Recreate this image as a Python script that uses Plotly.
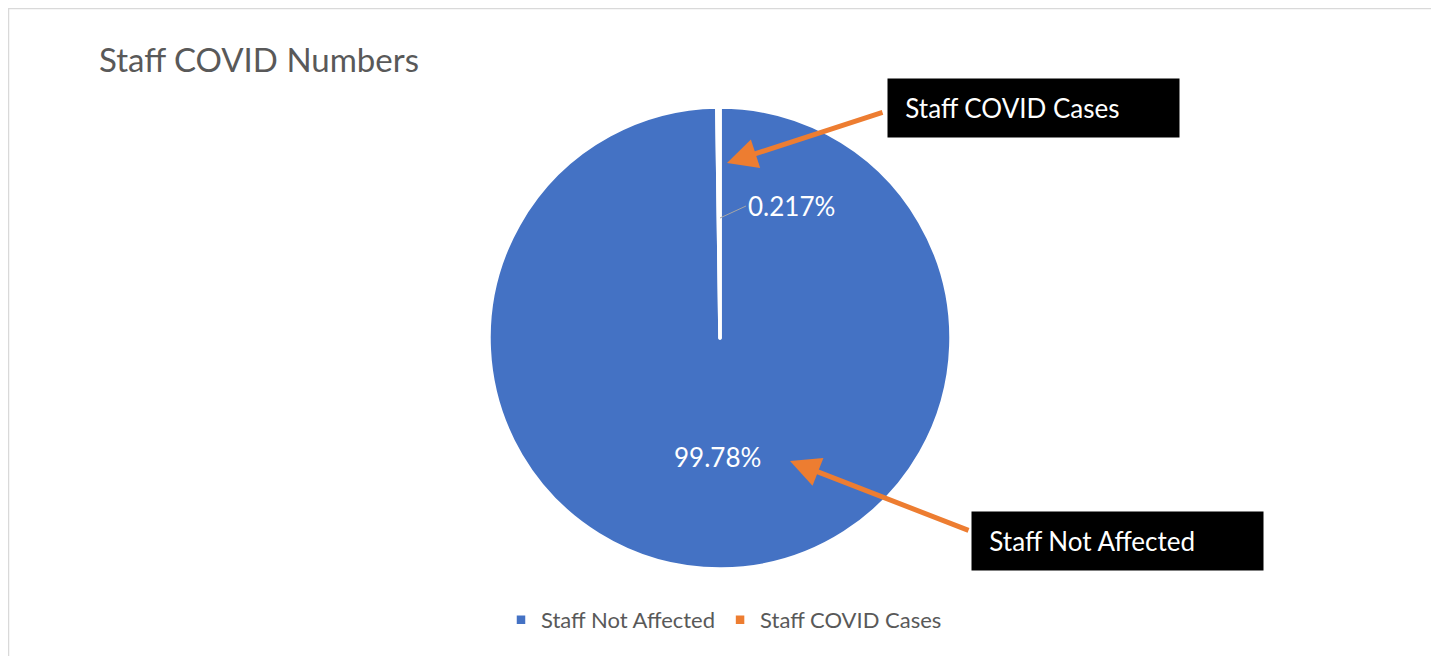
import plotly.graph_objects as go

# Data
categories = ["Staff Not Affected", "Staff COVID Cases"]
values = [99.783, 0.217]
colors = ["#4472C4", "#ED7D31"]
title_text = "Staff COVID Numbers"

W, H = 1439, 656
OFF = 8  # page body offset
total = sum(values)
pct = [v / total * 100 for v in values]
pct_labels = [f"{pct[0]:.2f}%", f"{pct[1]:.3f}%"]


def px(x):
    return (x - OFF) / W


def py(y):
    return 1 - (y - OFF) / H


fig = go.Figure()
fig.add_trace(go.Pie(
    labels=categories,
    values=values,
    sort=False,
    direction="clockwise",
    rotation=0,
    textinfo="none",
    hoverinfo="label+percent",
    marker=dict(colors=colors, line=dict(color="white", width=3.5)),
    domain=dict(x=[px(489), px(951)], y=[py(570), py(106)]),
    showlegend=True,
))

font_family = "Lato, 'Open Sans', sans-serif"
annotations = [
    # Title
    dict(text=title_text, x=px(97), y=py(59), xref="paper", yref="paper",
         xanchor="left", yanchor="middle", showarrow=False,
         font=dict(family=font_family, size=33, color="#595959")),
    # Data labels
    dict(text=pct_labels[1], x=px(720), y=py(218), xref="paper", yref="paper",
         ax=26, ay=-12, showarrow=True, arrowhead=0, arrowwidth=1,
         arrowcolor="#a6a6a6", xanchor="left", yanchor="middle",
         font=dict(family=font_family, size=26, color="white")),
    dict(text=pct_labels[0], x=px(717), y=py(457), xref="paper", yref="paper",
         showarrow=False, xanchor="center", yanchor="middle",
         font=dict(family=font_family, size=26, color="white")),
    # Callout boxes
    dict(text="\u00a0\u00a0" + categories[1], x=px(887), y=py(108), xref="paper", yref="paper",
         xanchor="left", yanchor="middle", showarrow=False, align="left",
         width=283, height=50, bgcolor="black", borderpad=4,
         font=dict(family=font_family, size=26, color="white")),
    dict(text="\u00a0\u00a0" + categories[0], x=px(971), y=py(541), xref="paper", yref="paper",
         xanchor="left", yanchor="middle", showarrow=False, align="left",
         width=283, height=50, bgcolor="black", borderpad=4,
         font=dict(family=font_family, size=26, color="white")),
    # Arrows
    dict(text="", x=px(727), y=py(163), xref="paper", yref="paper",
         ax=157, ay=-51, showarrow=True, arrowhead=2, arrowsize=1.2,
         arrowwidth=5, arrowcolor="#ED7D31"),
    dict(text="", x=px(790), y=py(461), xref="paper", yref="paper",
         ax=180, ay=70, showarrow=True, arrowhead=2, arrowsize=1.2,
         arrowwidth=5, arrowcolor="#ED7D31"),
]

fig.update_layout(
    width=W, height=H,
    margin=dict(l=0, r=0, t=0, b=0),
    paper_bgcolor="white",
    plot_bgcolor="white",
    annotations=annotations,
    legend=dict(orientation="h", x=px(724), xanchor="center", y=py(620),
                yanchor="middle", font=dict(family=font_family, size=22, color="#595959"),
                itemclick=False, itemdoubleclick=False),
    shapes=[dict(type="rect", xref="paper", yref="paper",
                 x0=px(8.5), x1=px(1432), y0=-0.05, y1=py(8.5),
                 line=dict(color="#d9d9d9", width=1.5), layer="below")],
)

fig.write_html("out.html")
